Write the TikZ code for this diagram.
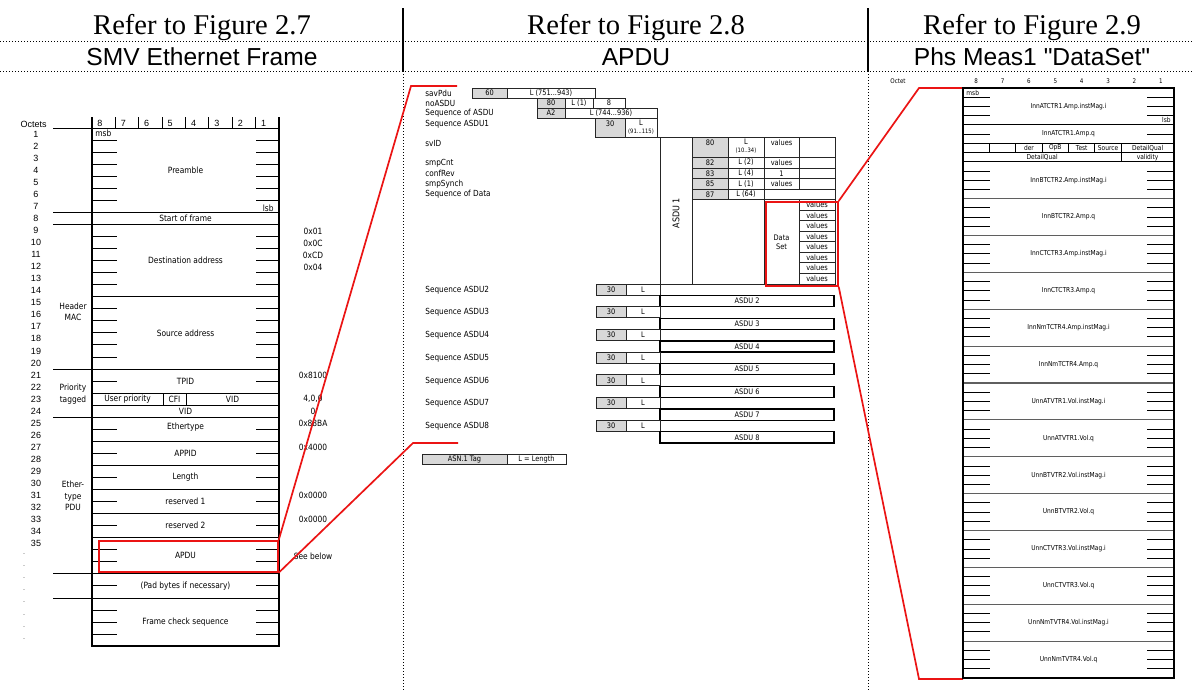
\documentclass[tikz,border=0pt]{standalone}
\usepackage{fontspec}
\setmainfont{Liberation Serif}
\newfontfamily\arialfont{Liberation Sans}[Ligatures=TeXOff]
\newfontfamily\tahfont{DejaVu Sans}[FakeStretch=0.87]
\usetikzlibrary{positioning, calc}
\definecolor{TagGray}{RGB}{216,216,216}
\definecolor{LinkRed}{RGB}{235,20,20}
\definecolor{RuleGray}{RGB}{95,95,95}

% row positions (pixel units, y downwards)
\newcommand{\frow}[1]{128+(#1)*12.05}
\newcommand{\drow}[1]{88+(#1)*9.21875}
% one table cell of the APDU
\newcommand{\apducell}[7]{%
  \draw[cellline, fill=#1] (#3,{#4}) rectangle (#5,{#6});
  \node[celltext] (#2) at ({(#3+#5)/2},{(#4+#6)/2}) {#7};}

\begin{document}
\begin{tikzpicture}[
    x=0.5pt, y=-0.5pt,
    headserif/.style={font=\fontsize{14.3}{16}\selectfont, anchor=base, inner sep=0pt},
    headsans/.style={font=\arialfont\fontsize{12.3}{14}\selectfont, anchor=base, inner sep=0pt},
    divider/.style={densely dotted, line width=0.5pt},
    octnum/.style={font=\arialfont\fontsize{4.5}{5}\selectfont, inner sep=0pt},
    fieldtext/.style={font=\tahfont\fontsize{4.3}{5.7}\selectfont, inner sep=0pt},
    frameline/.style={line width=0.8pt},
    thinline/.style={line width=0.45pt},
    redbox/.style={draw=LinkRed, line width=0.85pt, inner sep=0pt, anchor=north west},
    redlink/.style={LinkRed, line width=0.85pt},
    pdulabel/.style={font=\tahfont\fontsize{4.2}{5}\selectfont, anchor=west, inner sep=0pt},
    cellline/.style={line width=0.4pt, draw=black!85},
    celltext/.style={font=\tahfont\fontsize{3.8}{4.4}\selectfont, inner sep=0pt},
    tinytext/.style={font=\tahfont\fontsize{3}{3.4}\selectfont, inner sep=0pt},
    dsframe/.style={line width=1.2pt},
    dsrule/.style={line width=0.6pt, draw=RuleGray},
    dstext/.style={font=\tahfont\fontsize{3.4}{4}\selectfont, inner sep=0pt},
    dsbit/.style={font=\tahfont\fontsize{3.2}{4}\selectfont, inner sep=0pt}
]
\useasboundingbox (0,0) rectangle (1192,692);
\fill[white] (0,0) rectangle (1192,692);

% Headers
\node[headserif] (ref27) at (202,34) {Refer to Figure 2.7};
\node[headserif] (ref28) at (636,34) {Refer to Figure 2.8};
\node[headserif] (ref29) at (1032,34) {Refer to Figure 2.9};
\node[headsans] (smvhd) at (202,65) {SMV Ethernet Frame};
\node[headsans] (apduhd) at (636,65) {APDU};
\node[headsans] (dshd) at (1032,65) {Phs Meas1 "DataSet"};

% Dividers
\draw[line width=0.6pt] (403,8) -- (403,71) (868,8) -- (868,71);
\draw[divider] (403,71) -- (403,692) (868,71) -- (868,692);
\draw[divider] (0,41) -- (1192,41) (0,71) -- (1192,71);

% SMV Ethernet frame: octets and bits
\node[octnum, anchor=east] (octets) at (47,124) {Octets};
\foreach \b [count=\i from 0] in {8,7,6,5,4,3,2,1}
  \node[octnum] (lbit\b) at ({92+23.375*\i+8},123) {\b};
\foreach \i in {1,...,7}
  \draw[thinline] ({92+23.375*\i},117) -- ({92+23.375*\i},128);
\foreach \k in {1,...,35}
  \node[octnum] (oct\k) at (36,{\frow{\k-0.5}}) {\k};
\foreach \k in {36,...,43}
  \node[octnum, text=gray] (oct\k) at (24,{\frow{\k-0.5}-1.5}) {.};

% SMV Ethernet frame: outline and rules
\draw[frameline] (92,117) -- (92,{\frow{43}}) -- (279,{\frow{43}}) -- (279,117);
\draw[thinline] (53,128) -- (279,128);
\foreach \k in {7,8,20,24,37,39}
  \draw[thinline] (53,{\frow{\k}}) -- (279,{\frow{\k}});
\foreach \k in {14,22,23,26,28,30,32,34}
  \draw[thinline] (92,{\frow{\k}}) -- (279,{\frow{\k}});
\foreach \k in {1,2,3,4,5,6,9,10,11,12,13,15,16,17,18,19,21,25,27,29,31,33,35,36,38,40,41,42}
  \draw[thinline] (92,{\frow{\k}}) -- (117,{\frow{\k}}) (256,{\frow{\k}}) -- (279,{\frow{\k}});
\draw[thinline] (163,{\frow{22}}) -- (163,{\frow{23}}) (186,{\frow{22}}) -- (186,{\frow{23}});

% SMV Ethernet frame: fields
\node[fieldtext, anchor=west] (msb) at (95,{\frow{0.45}}) {msb};
\node[fieldtext, anchor=base east] (lsb) at (274,{\frow{7}-0.5}) {lsb};
\node[fieldtext] (preamble) at (185.5,{\frow{3.5}}) {Preamble};
\node[fieldtext] (sof) at (185.5,{\frow{7.5}}) {Start of frame};
\node[fieldtext] (dstaddr) at (185.5,{\frow{11}}) {Destination address};
\node[fieldtext] (srcaddr) at (185.5,{\frow{17}}) {Source address};
\node[fieldtext] (tpid) at (185.5,{\frow{21}}) {TPID};
\node[fieldtext] (uprio) at (127.5,{\frow{22.5}}) {User priority};
\node[fieldtext] (cfi) at (174.5,{\frow{22.5}}) {CFI};
\node[fieldtext] (vida) at (232.5,{\frow{22.5}}) {VID};
\node[fieldtext] (vidb) at (185.5,{\frow{23.5}}) {VID};
\node[fieldtext] (ethertype) at (185.5,{\frow{24.8}}) {Ethertype};
\node[fieldtext] (appid) at (185.5,{\frow{27}}) {APPID};
\node[fieldtext] (length) at (185.5,{\frow{29}}) {Length};
\node[fieldtext] (resa) at (185.5,{\frow{31}}) {reserved 1};
\node[fieldtext] (resb) at (185.5,{\frow{33}}) {reserved 2};
\node[fieldtext] (apdu) at (185.5,{\frow{35.5}}) {APDU};
\node[fieldtext] (pad) at (185.5,{\frow{38}}) {(Pad bytes if necessary)};
\node[fieldtext] (fcs) at (185.5,{\frow{41}}) {Frame check sequence};

% Groups
\node[fieldtext, align=center] (hdrmac) at (73,312) {Header\\MAC};
\node[fieldtext, align=center] (priotag) at (73,394) {Priority\\tagged};
\node[fieldtext, align=center] (ethpdu) at (73,496) {Ether-\\type\\PDU};

% Values
\node[fieldtext] (hxa) at (313,{\frow{8.5}+1}) {0x01};
\node[fieldtext] (hxb) at (313,{\frow{9.5}+1}) {0x0C};
\node[fieldtext] (hxc) at (313,{\frow{10.5}+1}) {0xCD};
\node[fieldtext] (hxd) at (313,{\frow{11.5}+1}) {0x04};
\node[fieldtext] (hxtpid) at (313,{\frow{20.5}}) {0x8100};
\node[fieldtext] (hxprio) at (313,{\frow{22.5}}) {4,0,0};
\node[fieldtext] (hxvid) at (313,{\frow{23.5}}) {0};
\node[fieldtext] (hxeth) at (313,{\frow{24.5}}) {0x88BA};
\node[fieldtext] (hxappid) at (313,{\frow{26.5}}) {0x4000};
\node[fieldtext] (hxresa) at (313,{\frow{30.5}}) {0x0000};
\node[fieldtext] (hxresb) at (313,{\frow{32.5}}) {0x0000};
\node[fieldtext] (seebelow) at (313,{\frow{35.5}+1}) {See below};

% APDU highlight
\node[redbox, minimum width={(277-98)*0.5pt}, minimum height={(571-540)*0.5pt}] (apdured) at (98,540) {};
\coordinate (apdutop) at (411,86);
\coordinate (apdutopend) at (457,86);
\coordinate (apdubot) at (413,443);
\coordinate (apdubotend) at (458,443);
\draw[redlink] (apdured.north east) -- (apdutop) -- (apdutopend);
\draw[redlink] (apdured.south east) -- (apdubot) -- (apdubotend);

% APDU: labels
\node[pdulabel] (lsavpdu) at (425,93) {savPdu};
\node[pdulabel] (lnoasdu) at (425,103) {noASDU};
\node[pdulabel] (lseqof) at (425,113) {Sequence of ASDU};
\node[pdulabel] (lseqa) at (425,124) {Sequence ASDU1};
\node[pdulabel] (lsvid) at (425,143) {svID};
\node[pdulabel] (lsmpcnt) at (425,163) {smpCnt};
\node[pdulabel] (lconfrev) at (425,173.5) {confRev};
\node[pdulabel] (lsmpsynch) at (425,184) {smpSynch};
\node[pdulabel] (lseqdata) at (425,194) {Sequence of Data};

% APDU: header cells
\apducell{TagGray}{t60}{472}{88}{507}{98}{60}
\apducell{white}{l60}{507}{88}{595}{98}{L (751...943)}
\apducell{TagGray}{t80a}{537}{98}{565}{108}{80}
\apducell{white}{l80a}{565}{98}{593}{108}{L (1)}
\apducell{white}{v80a}{593}{98}{625}{108}{8}
\apducell{TagGray}{ta2}{537}{108}{565}{118}{A2}
\apducell{white}{la2}{565}{108}{657}{118}{L (744...936)}
\draw[cellline, fill=TagGray] (595,118) rectangle (625,137.5);
\node[celltext, anchor=north] (t30a) at (610,120) {30};
\draw[cellline] (625,118) rectangle (657,137.5);
\node[celltext, anchor=north] (l30a) at (641,119.5) {L};
\node[tinytext, anchor=north] (l30ar) at (641,128.5) {(91...115)};

% ASDU 1
\draw[cellline] (595,137.5) -- (660,137.5);
\draw[cellline] (660,137.5) rectangle (692,284);
\node[celltext, font=\tahfont\fontsize{4.6}{5}\selectfont, rotate=90] (asdua) at (676,213) {ASDU 1};
\draw[cellline, fill=TagGray] (692,137.5) rectangle (728,157);
\node[celltext, anchor=north] (t80b) at (710,139.5) {80};
\draw[cellline] (728,137.5) rectangle (764,157);
\node[celltext, anchor=north] (l80b) at (746,139) {L};
\node[tinytext, anchor=north] (l80br) at (746,148) {(10..34)};
\draw[cellline] (764,137.5) rectangle (799,157);
\node[celltext, anchor=north] (v80b) at (781.5,139.5) {values};
\draw[cellline] (799,137.5) rectangle (835,157);
\apducell{TagGray}{t82}{692}{157}{728}{168}{82}
\apducell{white}{l82}{728}{157}{764}{168}{L (2)}
\apducell{white}{v82}{764}{157}{799}{168}{values}
\draw[cellline] (799,157) rectangle (835,168);
\apducell{TagGray}{t83}{692}{168}{728}{178.5}{83}
\apducell{white}{l83}{728}{168}{764}{178.5}{L (4)}
\apducell{white}{v83}{764}{168}{799}{178.5}{1}
\draw[cellline] (799,168) rectangle (835,178.5);
\apducell{TagGray}{t85}{692}{178.5}{728}{189}{85}
\apducell{white}{l85}{728}{178.5}{764}{189}{L (1)}
\apducell{white}{v85}{764}{178.5}{799}{189}{values}
\draw[cellline] (799,178.5) rectangle (835,189);
\apducell{TagGray}{t87}{692}{189}{728}{199.5}{87}
\apducell{white}{l87}{728}{189}{764}{199.5}{L (64)}
\draw[cellline] (764,189) rectangle (835,199.5);
\draw[cellline] (692,199.5) rectangle (764,284);

% Data set
\draw[cellline] (764,199.5) rectangle (799,284);
\node[celltext, align=center] (dslabel) at (781.5,242) {Data\\Set};
\foreach \i in {0,...,7}
  \apducell{white}{dsv\i}{799}{199.5+10.5625*\i}{835}{199.5+10.5625*(\i+1)}{values}
\node[redbox, minimum width={(837-765)*0.5pt}, minimum height={(285-201)*0.5pt}] (dsred) at (765,201) {};

% ASDU 2 to 8
\foreach \k in {2,...,8} {
  \pgfmathsetmacro{\yk}{284+(\k-2)*22.7}
  \node[pdulabel] (lseq\k) at (425,{\yk+6}) {Sequence ASDU\k};
  \apducell{TagGray}{tseq\k}{596}{\yk}{626}{\yk+11}{30}
  \apducell{white}{lseql\k}{626}{\yk}{660}{\yk+11}{L}
  \draw[line width=0.65pt] (660,{\yk+11.5}) rectangle (834,{\yk+22.7});
  \node[celltext] (asdu\k) at (747,{\yk+17.1}) {ASDU \k};
}

% Legend
\apducell{TagGray}{legtag}{422}{454}{507}{464}{ASN.1 Tag}
\apducell{white}{leglen}{507}{454}{566}{464}{L = Length}

% Data set links
\coordinate (dstop) at (919,88);
\coordinate (dsnw) at (963,88);
\coordinate (dsbot) at (919,679);
\coordinate (dssw) at (963,679);
\draw[redlink] (dsred.north east) -- (dstop) -- (dsnw);
\draw[redlink] (dsred.south east) -- (dsbot) -- (dssw);

% Phs Meas1 data set: octet and bits
\node[dsbit] (octet) at (898,81) {Octet};
\foreach \b [count=\i from 0] in {8,7,6,5,4,3,2,1}
  \node[dsbit] (dbit\b) at ({963+26.375*(\i+0.5)},81) {\b};

% Phs Meas1 data set: rules and ticks
\foreach \r in {4,6,7,8}
  \draw[thinline] (963,{\drow{\r}}) -- (1174,{\drow{\r}});
\foreach \r in {12,16,...,60}
  \draw[dsrule] (963,{\drow{\r}}) -- (1174,{\drow{\r}});
\foreach \r in {1,2,3,5}
  \draw[thinline] (963,{\drow{\r}}) -- (990,{\drow{\r}}) (1147,{\drow{\r}}) -- (1174,{\drow{\r}});
\foreach \s in {8,12,...,60}
  \foreach \d in {1,2,3}
    \draw[thinline] (963,{\drow{\s+\d}}) -- (990,{\drow{\s+\d}}) (1147,{\drow{\s+\d}}) -- (1174,{\drow{\s+\d}});
\foreach \c in {1,...,6}
  \draw[thinline] ({963+26.375*\c},{\drow{6}}) -- ({963+26.375*\c},{\drow{7}});
\draw[thinline] ({963+26.375*6},{\drow{7}}) -- ({963+26.375*6},{\drow{8}});
\draw[dsframe] (963,88) rectangle (1174,678);

% Phs Meas1 data set: fields
\node[dstext, anchor=west] (dmsb) at (966,{\drow{0.5}}) {msb};
\node[dstext, anchor=east] (dlsb) at (1171,{\drow{3.5}}) {lsb};
\node[dstext] (dsfa) at (1068.5,{\drow{2}}) {InnATCTR1.Amp.instMag.i};
\node[dstext] (dsfb) at (1068.5,{\drow{5}}) {InnATCTR1.Amp.q};
\node[dstext] (qder) at (1028.9,{\drow{6.5}}) {der};
\node[dstext] (qopb) at (1055.3,{\drow{6.5}}) {OpB};
\node[dstext] (qtest) at (1081.7,{\drow{6.5}}) {Test};
\node[dstext] (qsource) at (1108.1,{\drow{6.5}}) {Source};
\node[dstext] (qdetaila) at (1147.6,{\drow{6.5}}) {DetailQual};
\node[dstext] (qdetailb) at (1042.1,{\drow{7.5}}) {DetailQual};
\node[dstext] (qvalid) at (1147.6,{\drow{7.5}}) {validity};
\foreach \name [count=\j from 0] in {InnBTCTR2.Amp.instMag.i, InnBTCTR2.Amp.q,
    InnCTCTR3.Amp.instMag.i, InnCTCTR3.Amp.q, InnNmTCTR4.Amp.instMag.i, InnNmTCTR4.Amp.q,
    UnnATVTR1.Vol.instMag.i, UnnATVTR1.Vol.q, UnnBTVTR2.Vol.instMag.i, UnnBTVTR2.Vol.q,
    UnnCTVTR3.Vol.instMag.i, UnnCTVTR3.Vol.q, UnnNmTVTR4.Vol.instMag.i, UnnNmTVTR4.Vol.q}
  \node[dstext] (dsf\j) at (1068.5,{\drow{10+4*\j}}) {\name};

\end{tikzpicture}
\end{document}
